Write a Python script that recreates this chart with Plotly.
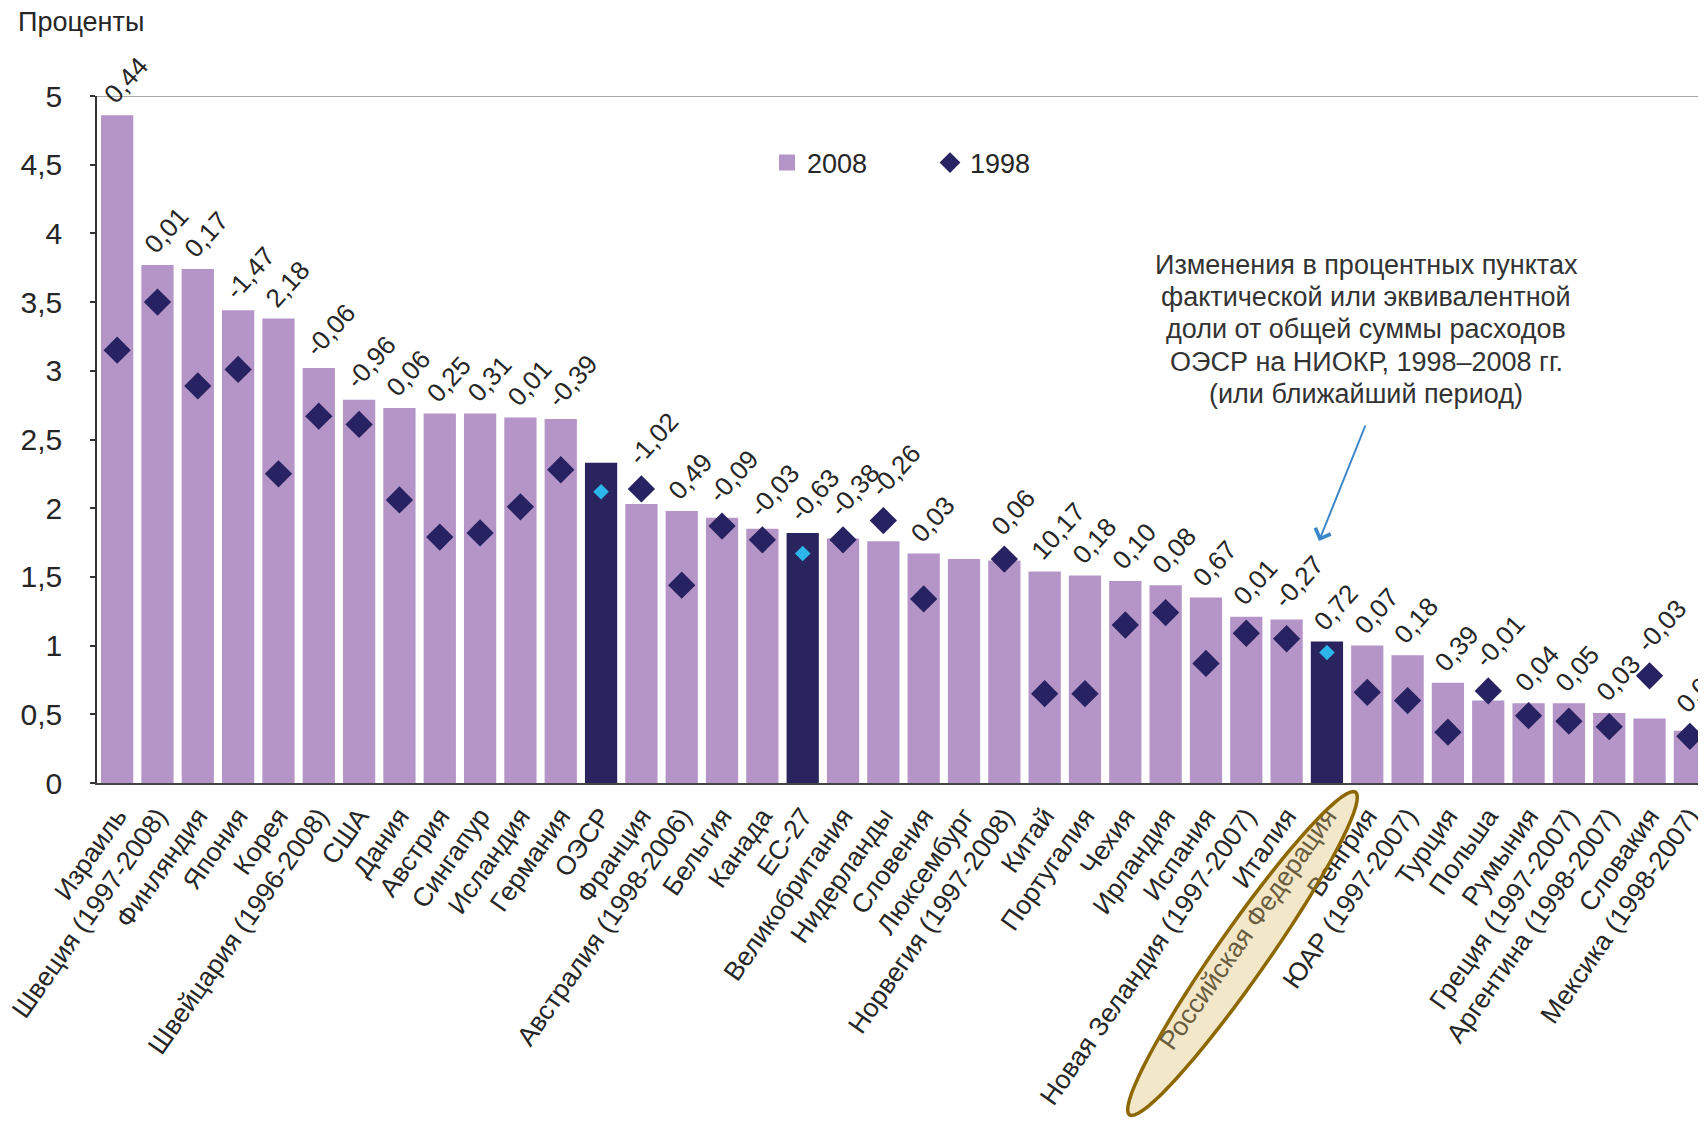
import math
import plotly.graph_objects as go

# ---------------- data ----------------
countries = [
    "Израиль", "Швеция (1997-2008)", "Финляндия", "Япония", "Корея",
    "Швейцария (1996-2008)", "США", "Дания", "Австрия", "Сингапур",
    "Исландия", "Германия", "ОЭСР", "Франция", "Австралия (1998-2006)",
    "Бельгия", "Канада", "ЕС-27", "Великобритания", "Нидерланды",
    "Словения", "Люксембург", "Норвегия (1997-2008)", "Китай", "Португалия",
    "Чехия", "Ирландия", "Испания", "Новая Зеландия (1997-2007)", "Италия",
    "Российская Федерация", "Венгрия", "ЮАР (1997-2007)", "Турция", "Польша",
    "Румыния", "Греция (1997-2007)", "Аргентина (1998-2007)", "Словакия",
    "Мексика (1998-2007)",
]
values_2008 = [
    4.86, 3.77, 3.74, 3.44, 3.38, 3.02, 2.79, 2.73, 2.69, 2.69,
    2.66, 2.65, 2.33, 2.03, 1.98, 1.93, 1.85, 1.82, 1.78, 1.76,
    1.67, 1.63, 1.62, 1.54, 1.51, 1.47, 1.44, 1.35, 1.21, 1.19,
    1.03, 1.00, 0.93, 0.73, 0.60, 0.58, 0.58, 0.51, 0.47, 0.38,
]
values_1998 = [
    3.15, 3.50, 2.89, 3.01, 2.25, 2.67, 2.61, 2.06, 1.79, 1.82,
    2.01, 2.28, 2.12, 2.14, 1.44, 1.87, 1.77, 1.67, 1.77, 1.91,
    1.34, None, 1.63, 0.65, 0.65, 1.15, 1.24, 0.87, 1.09, 1.05,
    0.95, 0.66, 0.60, 0.37, 0.67, 0.49, 0.45, 0.41, 0.78, 0.34,
]
change_labels = [
    "0,44", "0,01", "0,17", "-1,47", "2,18", "-0,06", "-0,96", "0,06", "0,25", "0,31",
    "0,01", "-0,39", "", "-1,02", "0,49", "-0,09", "-0,03", "-0,63", "-0,38", "-0,26",
    "0,03", "", "0,06", "10,17", "0,18", "0,10", "0,08", "0,67", "0,01", "-0,27",
    "0,72", "0,07", "0,18", "0,39", "-0,01", "0,04", "0,05", "0,03", "-0,03", "0,03",
]
aggregates = ["ОЭСР", "ЕС-27", "Российская Федерация"]
y_ticks = [0, 0.5, 1, 1.5, 2, 2.5, 3, 3.5, 4, 4.5, 5]
note_lines = [
    "Изменения в процентных пунктах",
    "фактической или эквивалентной",
    "доли от общей суммы расходов",
    "ОЭСР на НИОКР, 1998–2008 гг.",
    "(или ближайший период)",
]

# ---------------- styles / geometry ----------------
LILAC = "#b595c7"
NAVY = "#29235e"
DIAMOND = "#272261"
CYAN = "#2db6ea"
TEXT = "#262626"
FONT = "Liberation Sans, Arial, sans-serif"

PAGE_OFF = 8                      # default body margin of the html page
W, H = 1706 - PAGE_OFF, 1121 - PAGE_OFF
AXIS_X, ZERO_Y, TOP_Y = 97, 783, 96   # in page (reference) pixels
ML = AXIS_X - PAGE_OFF
MT = TOP_Y - PAGE_OFF
MB = H - (ZERO_Y - PAGE_OFF)
MR = 0
PW, PH = W - ML - MR, ZERO_Y - TOP_Y


def px2paper(px, py):
    """reference-page pixel -> paper coordinates"""
    return (px - AXIS_X) / PW, (ZERO_Y - py) / PH


bar_colors = [NAVY if c in aggregates else LILAC for c in countries]

reg_x = [c for c, v in zip(countries, values_1998) if v is not None and c not in aggregates]
reg_y = [v for c, v in zip(countries, values_1998) if v is not None and c not in aggregates]
agg_x = [c for c, v in zip(countries, values_1998) if v is not None and c in aggregates]
agg_y = [v for c, v in zip(countries, values_1998) if v is not None and c in aggregates]

fig = go.Figure()
fig.add_trace(go.Bar(
    x=countries, y=values_2008, name="2008", marker=dict(color=bar_colors, line=dict(width=0)),
    showlegend=False, hoverinfo="x+y",
))
# legend proxy for the bars (bigger square than the default bar icon)
fig.add_trace(go.Scatter(
    x=[None], y=[None], mode="markers", name="2008",
    marker=dict(symbol="square", size=16, color=LILAC),
))
fig.add_trace(go.Scatter(
    x=reg_x, y=reg_y, mode="markers", name="1998",
    marker=dict(symbol="diamond", size=21, color=DIAMOND, line=dict(width=0)),
))
fig.add_trace(go.Scatter(
    x=agg_x, y=agg_y, mode="markers", name="1998", showlegend=False,
    marker=dict(symbol="diamond", size=12, color=CYAN, line=dict(width=0)),
))

annotations = []
# value labels (percentage point change)
for i, (c, lab) in enumerate(zip(countries, change_labels)):
    if not lab:
        continue
    b = values_2008[i]
    d = values_1998[i]
    top = b
    extra = 0
    if d is not None and d + 0.06 > b:
        top = d
        extra = 12
    annotations.append(dict(
        x=c, y=top, xref="x", yref="y", text=lab, showarrow=False,
        textangle=-48, xanchor="left", yanchor="bottom",
        xshift=-22, yshift=extra + 3,
        font=dict(family=FONT, size=26, color=TEXT),
    ))

# axis unit label
x0, y0 = px2paper(16, 22)
annotations.append(dict(
    x=x0, y=y0, xref="paper", yref="paper",
    text="Проценты", showarrow=False, xanchor="left", yanchor="middle",
    font=dict(family=FONT, size=27, color=TEXT),
))
# explanatory note, one annotation per line (tighter line spacing as in the source)
for k, line in enumerate(note_lines):
    nx, ny = px2paper(1366, 264.5 + 32.4 * k)
    annotations.append(dict(
        x=nx, y=ny, xref="paper", yref="paper", text=line, showarrow=False,
        xanchor="center", yanchor="middle",
        font=dict(family=FONT, size=27, color="#333333"),
    ))
# arrow
hx, hy = px2paper(1319, 541)
annotations.append(dict(
    x=hx, y=hy, xref="paper", yref="paper",
    text="", showarrow=True, ax=47, ay=-117, arrowhead=4, arrowsize=1.6,
    arrowwidth=2, arrowcolor="#3b87c9",
))

# ellipse around the highlighted label (pixel geometry -> paper coords)
cx, cy, a, bb, phi = 1242.5, 953.5, 197, 25, math.radians(55)
pts = []
for k in range(73):
    t = 2 * math.pi * k / 72
    px = cx + a * math.cos(t) * math.cos(phi) + bb * math.sin(t) * math.sin(phi)
    py = cy - a * math.cos(t) * math.sin(phi) + bb * math.sin(t) * math.cos(phi)
    pts.append(px2paper(px, py))
path = "M " + " L ".join(f"{x:.5f},{y:.5f}" for x, y in pts) + " Z"

shapes = [
    dict(type="path", path=path, xref="paper", yref="paper", layer="above",
         fillcolor="rgba(221,189,106,0.36)", line=dict(color="#8d6700", width=3.5)),
    dict(type="line", xref="paper", yref="y", x0=0, x1=1, y0=5, y1=5,
         line=dict(color="#8c8c8c", width=1.5), layer="above"),
]

lx, ly = px2paper(767, 163)
fig.update_layout(
    width=W, height=H,
    margin=dict(l=ML, r=MR, t=MT, b=MB, pad=0, autoexpand=False),
    paper_bgcolor="white", plot_bgcolor="rgba(0,0,0,0)",
    separators=", ",
    bargap=0.2,
    font=dict(family=FONT, size=24, color=TEXT),
    showlegend=True,
    legend=dict(
        orientation="h", x=lx, y=ly,
        xanchor="left", yanchor="middle", bgcolor="rgba(0,0,0,0)",
        font=dict(family=FONT, size=27, color=TEXT),
        entrywidth=118, entrywidthmode="pixels", traceorder="normal",
    ),
    annotations=annotations,
    shapes=shapes,
)
fig.update_xaxes(
    type="category", range=[-0.5, 39.4], showline=True, linecolor="#444444", linewidth=2,
    ticks="", tickangle=-55, tickfont=dict(family=FONT, size=26.5, color=TEXT),
    ticklabelstandoff=5, automargin=False,
    showgrid=False, zeroline=False,
)
fig.update_yaxes(
    range=[0, 5], tickvals=y_ticks, showline=True, linecolor="#333333", linewidth=1.5,
    ticks="outside", ticklen=5, tickcolor="#333333", tickwidth=1.5,
    ticklabelstandoff=22, tickfont=dict(family=FONT, size=30, color=TEXT),
    automargin=False, showgrid=False, zeroline=False,
)

fig.write_html("out.html")
